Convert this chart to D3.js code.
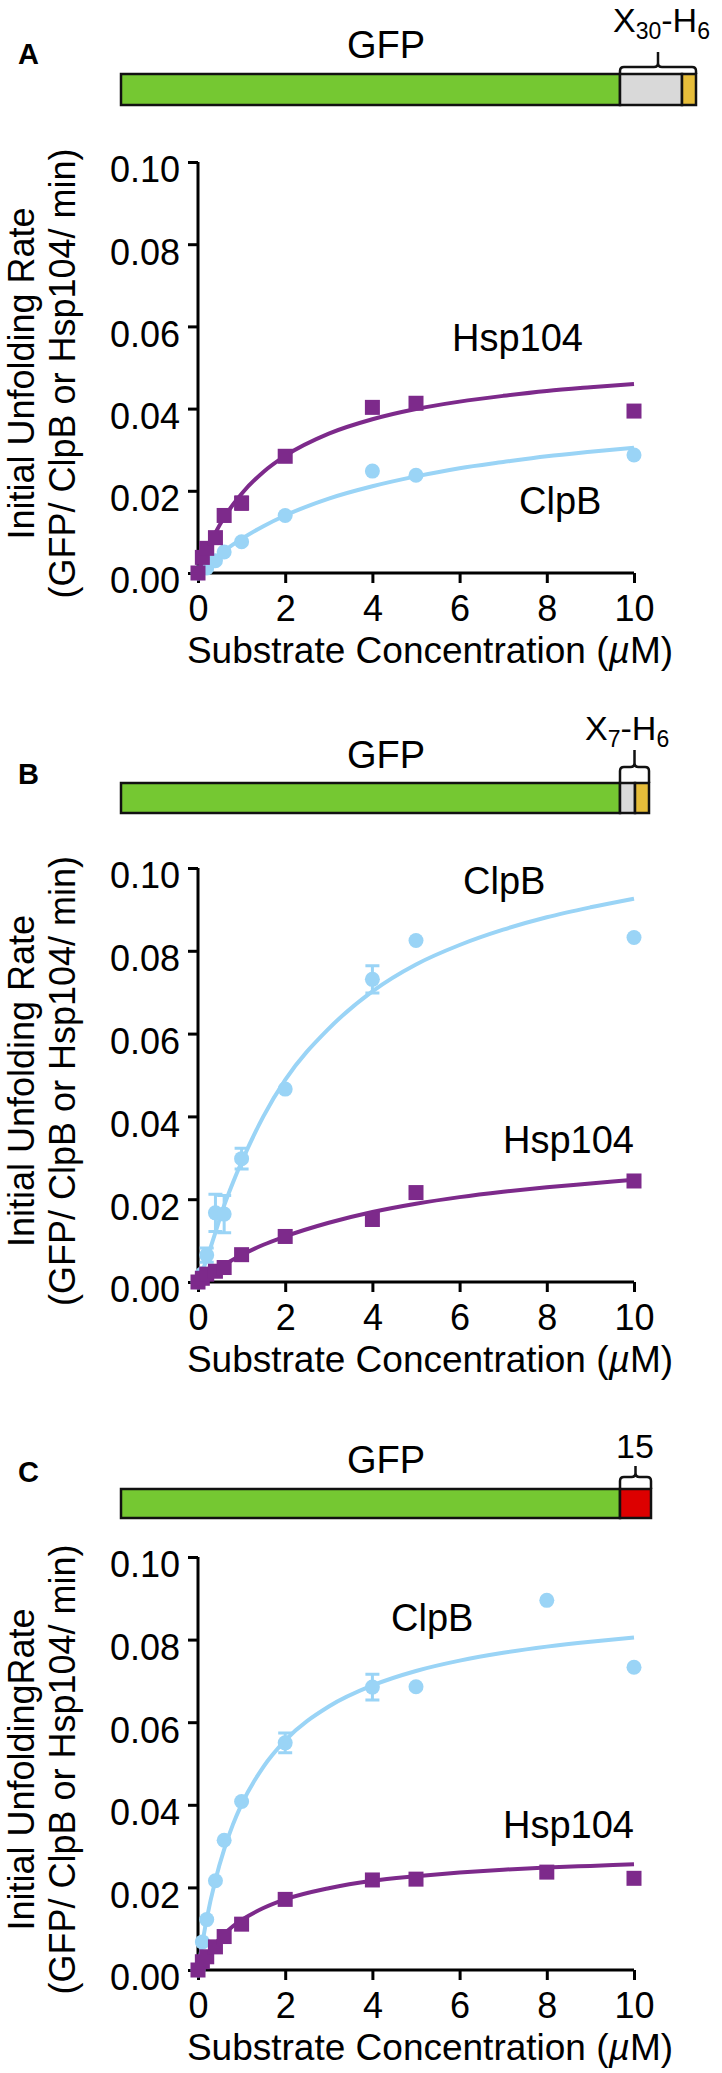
<!DOCTYPE html>
<html>
<head>
<meta charset="utf-8">
<script src="https://cdn.jsdelivr.net/npm/d3@7/dist/d3.min.js"></script>
<style>
  body { margin: 0; background: #fff; }
  svg { display: block; }
  text { font-family: "Liberation Sans", Arial, Helvetica, sans-serif; fill: #000; }
</style>
</head>
<body>
<div id="fig"></div>
<script>
// ---- data ----
const xTicks = [0, 2, 4, 6, 8, 10];
const yTicks = [0, 0.02, 0.04, 0.06, 0.08, 0.10];
const fitX = [0, 0.2, 0.4, 0.6, 0.8, 1, 1.5, 2, 3, 4, 5, 6, 7, 8, 9, 10];

// panel A (X30-H6 tag)
const aHspX = [0, 0.1, 0.2, 0.4, 0.6, 1, 2, 4, 5, 10];
const aHspY = [0, 0.0038, 0.006, 0.0086, 0.014, 0.017, 0.0284, 0.0403, 0.0413, 0.0394];
const aHspErr = [0, 0, 0, 0, 0, 0.0015, 0, 0, 0, 0];
const aClpX = [0, 0.2, 0.4, 0.6, 1, 2, 4, 5, 10];
const aClpY = [0, 0.0012, 0.003, 0.0051, 0.0076, 0.014, 0.0248, 0.0238, 0.0287];
const aClpErr = [0, 0, 0, 0, 0, 0, 0, 0, 0];
const aHspFit = [0, 0.0054, 0.0098, 0.0135, 0.0166, 0.0193, 0.0246, 0.0285, 0.0339, 0.0374, 0.0399, 0.0417, 0.0431, 0.0443, 0.0452, 0.046];
const aClpFit = [0, 0.002, 0.0038, 0.0054, 0.0069, 0.0083, 0.0114, 0.014, 0.0181, 0.0211, 0.0235, 0.0255, 0.027, 0.0284, 0.0295, 0.0305];

// panel B (X7-H6 tag)
const bHspX = [0, 0.1, 0.2, 0.4, 0.6, 1, 2, 4, 5, 10];
const bHspY = [0, 0.0009, 0.0019, 0.0026, 0.0035, 0.0066, 0.011, 0.0151, 0.0216, 0.0244];
const bHspErr = [0, 0, 0, 0, 0, 0, 0, 0, 0, 0];
const bClpX = [0, 0.1, 0.2, 0.4, 0.6, 1, 2, 4, 5, 10];
const bClpY = [0, 0.002, 0.0065, 0.0167, 0.0164, 0.0298, 0.0466, 0.0731, 0.0825, 0.0832];
const bClpErr = [0, 0, 0.0017, 0.0045, 0.0045, 0.0025, 0, 0.0033, 0, 0];
const bHspFit = [0, 0.0015, 0.0029, 0.0042, 0.0054, 0.0065, 0.009, 0.011, 0.0143, 0.0169, 0.0189, 0.0205, 0.0218, 0.0229, 0.0238, 0.0247];
const bClpFit = [0, 0.0055, 0.012, 0.0185, 0.024, 0.029, 0.04, 0.0488, 0.0612, 0.0702, 0.0767, 0.0814, 0.0851, 0.0881, 0.0905, 0.0926];

// panel C (15 tag)
const cHspX = [0, 0.1, 0.2, 0.4, 0.6, 1, 2, 4, 5, 8, 10];
const cHspY = [0, 0.002, 0.0032, 0.0056, 0.0081, 0.0111, 0.0171, 0.0218, 0.022, 0.0237, 0.0222];
const cHspErr = [0, 0, 0, 0, 0, 0, 0, 0, 0, 0, 0];
const cClpX = [0, 0.1, 0.2, 0.4, 0.6, 1, 2, 4, 5, 8, 10];
const cClpY = [0, 0.0068, 0.0122, 0.0216, 0.0314, 0.0408, 0.055, 0.0685, 0.0686, 0.0895, 0.0733];
const cClpErr = [0, 0, 0, 0, 0, 0, 0.0024, 0.0031, 0, 0, 0];
const cHspFit = [0, 0.0036, 0.0064, 0.0087, 0.0106, 0.0121, 0.015, 0.0171, 0.0198, 0.0216, 0.0227, 0.0236, 0.0243, 0.0248, 0.0252, 0.0256];
const cClpFit = [0, 0.0124, 0.0218, 0.0292, 0.0352, 0.0401, 0.0492, 0.0556, 0.0638, 0.0689, 0.0724, 0.0749, 0.0768, 0.0783, 0.0795, 0.0805];

const yTitles = [
  ["Initial Unfolding Rate", "(GFP/ ClpB or Hsp104/ min)"],
  ["Initial Unfolding Rate", "(GFP/ ClpB or Hsp104/ min)"],
  ["Initial UnfoldingRate", "(GFP/ ClpB or Hsp104/ min)"]
];

// ---- styling / layout ----
const W = 722, H = 2073;
const purple = "#7d2a8b", blue = "#9ad4f6";
const green = "#75c832", grey = "#d9d9d9", yellow = "#e6bd3a", red = "#dd0000";
const xLeft = 198, xRight = 634;

const panels = [
  {
    letter: "A", letterY: 64,
    barTop: 74, barBot: 105, segs: [[121, 620, green], [620, 682, grey], [682, 696, yellow]],
    bracket: [620, 696, 67, 52], gfpY: 58,
    tag: { x: 613, y: 32, parts: [["X", 0], ["30", 1], ["-H", 0], ["6", 1]] },
    top: 162, bot: 573,
    hsp: [aHspX, aHspY, aHspErr, aHspFit], clp: [aClpX, aClpY, aClpErr, aClpFit],
    hspLab: [452, 351], clpLab: [519, 514]
  },
  {
    letter: "B", letterY: 784,
    barTop: 783, barBot: 813, segs: [[121, 620, green], [620, 635, grey], [635, 649, yellow]],
    bracket: [620, 649, 767, 750], gfpY: 768,
    tag: { x: 585, y: 740, parts: [["X", 0], ["7", 1], ["-H", 0], ["6", 1]] },
    top: 868, bot: 1282,
    hsp: [bHspX, bHspY, bHspErr, bHspFit], clp: [bClpX, bClpY, bClpErr, bClpFit],
    hspLab: [503, 1153], clpLab: [463, 894]
  },
  {
    letter: "C", letterY: 1482,
    barTop: 1489, barBot: 1518, segs: [[121, 620, green], [620, 651, red]],
    bracket: [620, 651, 1477, 1466], gfpY: 1473,
    tag: { x: 616, y: 1458, parts: [["15", 0]] },
    top: 1557, bot: 1970,
    hsp: [cHspX, cHspY, cHspErr, cHspFit], clp: [cClpX, cClpY, cClpErr, cClpFit],
    hspLab: [503, 1838], clpLab: [391, 1631]
  }
];

const svg = d3.select("#fig").append("svg").attr("width", W).attr("height", H);
svg.append("rect").attr("width", W).attr("height", H).attr("fill", "#fff");

panels.forEach((p, pi) => {
  const g = svg.append("g");

  // panel letter
  g.append("text").attr("x", 18).attr("y", p.letterY)
    .attr("font-size", 29).attr("font-weight", "bold").text(p.letter);

  // construct bar
  p.segs.forEach(s => {
    g.append("rect").attr("x", s[0]).attr("y", p.barTop)
      .attr("width", s[1] - s[0]).attr("height", p.barBot - p.barTop)
      .attr("fill", s[2]).attr("stroke", "#111").attr("stroke-width", 2.5);
  });
  g.append("text").attr("x", 386).attr("y", p.gfpY).attr("text-anchor", "middle")
    .attr("font-size", 38).text("GFP");

  // bracket over the tail
  const [bx1, bx2, by, byTop] = p.bracket;
  const bm = (bx1 + bx2) / 2, r = 4;
  g.append("path")
    .attr("d", `M${bx1},${p.barTop} L${bx1},${by + r} Q${bx1},${by} ${bx1 + r},${by} L${bm - r},${by} Q${bm},${by} ${bm},${by - r} L${bm},${byTop}
                M${bm},${by - r} Q${bm},${by} ${bm + r},${by} L${bx2 - r},${by} Q${bx2},${by} ${bx2},${by + r} L${bx2},${p.barTop}`)
    .attr("fill", "none").attr("stroke", "#111").attr("stroke-width", 2.5);

  const tag = g.append("text").attr("x", p.tag.x).attr("y", p.tag.y).attr("font-size", 34);
  let sub = false;
  p.tag.parts.forEach(t => {
    const dy = t[1] ? 7 : (sub ? -7 : 0);
    tag.append("tspan").attr("font-size", t[1] ? 23 : 34).attr("dy", dy).text(t[0]);
    sub = !!t[1];
  });

  // scales and axes
  const x = d3.scaleLinear().domain([0, 10]).range([xLeft, xRight]);
  const y = d3.scaleLinear().domain([0, 0.1]).range([p.bot, p.top]);

  const xAxis = g.append("g").attr("transform", `translate(0,${p.bot})`)
    .call(d3.axisBottom(x).tickValues(xTicks).tickSize(10).tickPadding(12).tickFormat(d3.format("d")));
  const yAxis = g.append("g").attr("transform", `translate(${xLeft},0)`)
    .call(d3.axisLeft(y).tickValues(yTicks).tickSize(10).tickPadding(8).tickFormat(d3.format(".2f")));
  [xAxis, yAxis].forEach(a => {
    a.select(".domain").attr("stroke", "#000").attr("stroke-width", 3);
    a.selectAll(".tick line").attr("stroke", "#000").attr("stroke-width", 3);
    a.selectAll(".tick text").attr("font-size", 36).attr("fill", "#000")
      .attr("font-family", '"Liberation Sans", Arial, sans-serif');
  });
  xAxis.select(".domain").attr("d", `M${xLeft},0H${xRight}`);
  yAxis.select(".domain").attr("d", `M0,${p.top}V${p.bot}`);
  yAxis.selectAll(".tick text").attr("dy", "0.55em");

  // axis titles
  const xt = g.append("text").attr("x", (xLeft + xRight) / 2 + 14).attr("y", p.bot + 90)
    .attr("text-anchor", "middle").attr("font-size", 37);
  xt.append("tspan").text("Substrate Concentration (");
  xt.append("tspan").attr("font-style", "italic").text("\u00b5");
  xt.append("tspan").text("M)");

  const cy = (p.top + p.bot) / 2 + 6;
  yTitles[pi].forEach((t, i) => {
    g.append("text").attr("transform", `translate(${34 + i * 41},${cy}) rotate(-90)`)
      .attr("text-anchor", "middle").attr("font-size", 36).text(t);
  });

  // fit curves, error bars and points
  const line = d3.line().x(d => x(d[0])).y(d => y(d[1])).curve(d3.curveMonotoneX);
  const drawSeries = (s, color, shape) => {
    const [xs, ys, es, fit] = s;
    g.append("path").datum(fitX.map((v, i) => [v, fit[i]]))
      .attr("d", line).attr("fill", "none").attr("stroke", color).attr("stroke-width", 4);
    const pts = xs.map((v, i) => ({ x: v, y: ys[i], e: es[i] }));
    g.append("g").selectAll("path").data(pts.filter(d => d.e > 0)).join("path")
      .attr("d", d => {
        const cx = x(d.x), t = y(d.y + d.e), b = y(d.y - d.e);
        return `M${cx - 7},${t}H${cx + 7}M${cx},${t}V${b}M${cx - 7},${b}H${cx + 7}`;
      })
      .attr("fill", "none").attr("stroke", color).attr("stroke-width", 3);
    if (shape === "circle") {
      g.append("g").selectAll("circle").data(pts).join("circle")
        .attr("cx", d => x(d.x)).attr("cy", d => y(d.y)).attr("r", 7.5).attr("fill", color);
    } else {
      g.append("g").selectAll("rect").data(pts).join("rect")
        .attr("x", d => x(d.x) - 7.5).attr("y", d => y(d.y) - 7.5)
        .attr("width", 15).attr("height", 15).attr("fill", color);
    }
  };
  drawSeries(p.clp, blue, "circle");
  drawSeries(p.hsp, purple, "square");

  g.append("text").attr("x", p.hspLab[0]).attr("y", p.hspLab[1]).attr("font-size", 38).text("Hsp104");
  g.append("text").attr("x", p.clpLab[0]).attr("y", p.clpLab[1]).attr("font-size", 38).text("ClpB");
});
</script>
</body>
</html>
